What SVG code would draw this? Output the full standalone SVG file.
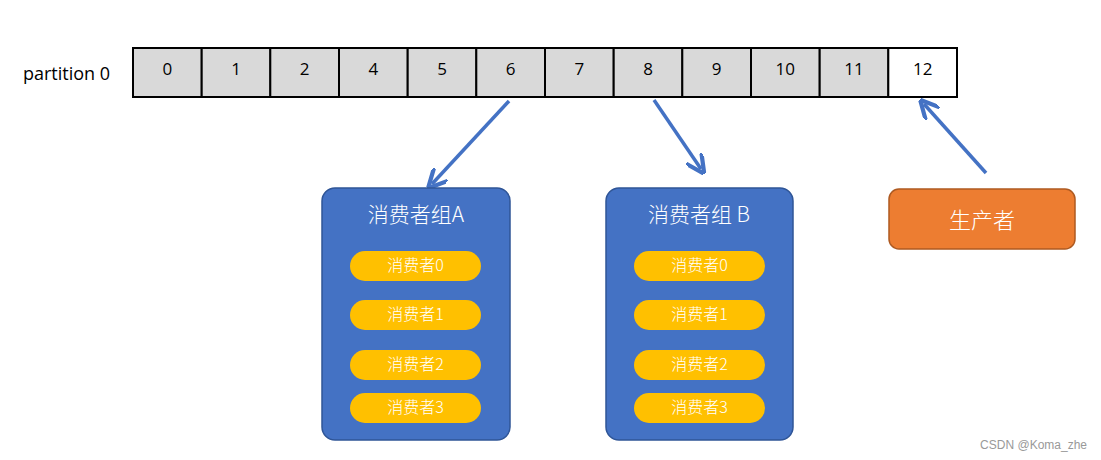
<svg xmlns="http://www.w3.org/2000/svg" width="1101" height="460" viewBox="0 0 1101 460">
<style>
.cell{fill:#D9D9D9;stroke:#000;stroke-width:2}
.num{font-family:"Open Sans","Liberation Sans",sans-serif;font-size:17px;fill:#000;text-anchor:middle}
.grp{fill:#4472C4;stroke:#2F5597;stroke-width:1.5}
.pill{fill:#FFC000}
.t{font-family:"Noto Sans CJK SC","Noto Sans",sans-serif;font-weight:300;fill:#fff;text-anchor:middle}
.conn{stroke:#4472C4;stroke-width:3.5;fill:none;marker-end:url(#ah)}
</style>
<defs>
<marker id="ah" viewBox="0 0 10 10" refX="7" refY="5" markerWidth="5.5" markerHeight="5.5" orient="auto" markerUnits="strokeWidth">
<path d="M0,0 L10,5 L0,10" fill="none" stroke="#4472C4" stroke-width="2.2"/>
</marker>
</defs>
<rect width="1101" height="460" fill="#fff"/>
<text x="23" y="80" font-family="'Open Sans','Noto Sans',sans-serif" font-size="18" fill="#000">partition 0</text>
<g id="partition">
<rect class="cell" x="133" y="48" width="68.7" height="49"/>
<rect class="cell" x="201.7" y="48" width="68.7" height="49"/>
<rect class="cell" x="270.3" y="48" width="68.7" height="49"/>
<rect class="cell" x="339" y="48" width="68.7" height="49"/>
<rect class="cell" x="407.7" y="48" width="68.7" height="49"/>
<rect class="cell" x="476.3" y="48" width="68.7" height="49"/>
<rect class="cell" x="545" y="48" width="68.7" height="49"/>
<rect class="cell" x="613.7" y="48" width="68.7" height="49"/>
<rect class="cell" x="682.3" y="48" width="68.7" height="49"/>
<rect class="cell" x="751" y="48" width="68.7" height="49"/>
<rect class="cell" x="819.7" y="48" width="68.7" height="49"/>
<rect class="cell" x="888.3" y="48" width="68.7" height="49" style="fill:#fff"/>
<text class="num" x="167.3" y="75">0</text>
<text class="num" x="236" y="75">1</text>
<text class="num" x="304.7" y="75">2</text>
<text class="num" x="373.3" y="75">4</text>
<text class="num" x="442" y="75">5</text>
<text class="num" x="510.7" y="75">6</text>
<text class="num" x="579.3" y="75">7</text>
<text class="num" x="648" y="75">8</text>
<text class="num" x="716.7" y="75">9</text>
<text class="num" x="785.3" y="75">10</text>
<text class="num" x="854" y="75">11</text>
<text class="num" x="922.7" y="75">12</text>
</g>
<g id="connectors">
<line class="conn" x1="509" y1="101" x2="432" y2="184"/>
<line class="conn" x1="654" y1="100" x2="701" y2="169"/>
<line class="conn" x1="986" y1="173" x2="924" y2="104"/>
</g>
<g id="groupA">
<rect class="grp" x="322" y="188" width="188" height="252" rx="13"/>
<text class="t" x="416" y="222" font-size="21">消费者组A</text>
<rect class="pill" x="350" y="251" width="131" height="30" rx="15"/>
<text class="t" x="415.5" y="271" font-size="16">消费者0</text>
<rect class="pill" x="350" y="300" width="131" height="30" rx="15"/>
<text class="t" x="415.5" y="320" font-size="16">消费者1</text>
<rect class="pill" x="350" y="350" width="131" height="30" rx="15"/>
<text class="t" x="415.5" y="370" font-size="16">消费者2</text>
<rect class="pill" x="350" y="393" width="131" height="30" rx="15"/>
<text class="t" x="415.5" y="413" font-size="16">消费者3</text>
</g>
<g id="groupB">
<rect class="grp" x="606" y="188" width="187" height="252" rx="13"/>
<text class="t" x="699" y="222" font-size="21">消费者组 B</text>
<rect class="pill" x="634" y="251" width="131" height="30" rx="15"/>
<text class="t" x="699.5" y="271" font-size="16">消费者0</text>
<rect class="pill" x="634" y="300" width="131" height="30" rx="15"/>
<text class="t" x="699.5" y="320" font-size="16">消费者1</text>
<rect class="pill" x="634" y="350" width="131" height="30" rx="15"/>
<text class="t" x="699.5" y="370" font-size="16">消费者2</text>
<rect class="pill" x="634" y="393" width="131" height="30" rx="15"/>
<text class="t" x="699.5" y="413" font-size="16">消费者3</text>
</g>
<g id="producer">
<rect x="889" y="189" width="186" height="60" rx="10" fill="#ED7D31" stroke="#AE5A21" stroke-width="1.5"/>
<text class="t" x="982" y="228" font-size="22">生产者</text>
</g>
<text x="1087" y="449" text-anchor="end" font-family="'Liberation Sans',sans-serif" font-size="12" fill="#999">CSDN @Koma_zhe</text>
</svg>
